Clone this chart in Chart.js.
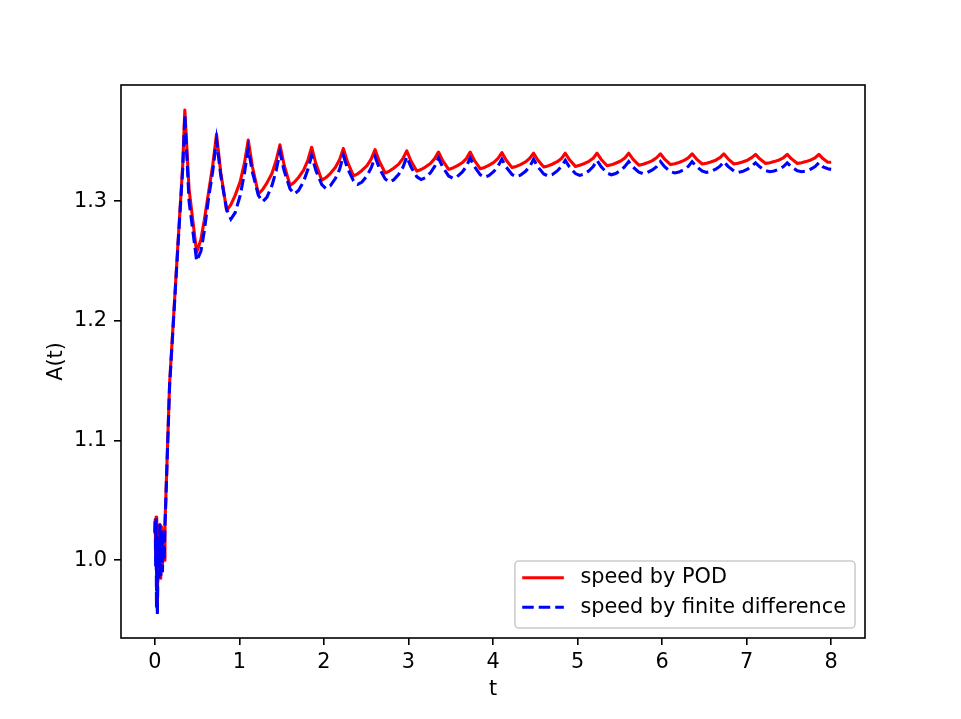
<!DOCTYPE html>
<html>
<head>
<meta charset="utf-8">
<script src="https://cdn.jsdelivr.net/npm/chart.js@4.4.0/dist/chart.umd.min.js"></script>
<style>
  body { margin: 0; background: #fff; }
  canvas { display: block; }
</style>
</head>
<body>
<canvas id="myChart" width="961" height="719"></canvas>
<script>
// time samples (start-up noise, first rise, then one line per oscillation)
const t = [
  0, 0.005, 0.01, 0.015, 0.02, 0.025, 0.03, 0.04, 0.05, 0.06, 0.07, 0.08, 0.09, 0.10, 0.11,
  0.12, 0.175, 0.274, 0.33,
  0.355, 0.405, 0.495, 0.545, 0.585, 0.635, 0.685,
  0.73, 0.78, 0.85, 0.90, 0.95, 1.01, 1.06,
  1.105, 1.155, 1.225, 1.275, 1.325, 1.385, 1.435,
  1.48, 1.53, 1.60, 1.65, 1.70, 1.76, 1.81,
  1.855, 1.905, 1.975, 2.025, 2.075, 2.135, 2.185,
  2.23, 2.28, 2.35, 2.40, 2.45, 2.51, 2.56,
  2.605, 2.655, 2.725, 2.775, 2.825, 2.885, 2.935,
  2.98, 3.03, 3.10, 3.15, 3.20, 3.26, 3.31,
  3.355, 3.405, 3.475, 3.525, 3.575, 3.635, 3.685,
  3.73, 3.78, 3.85, 3.90, 3.95, 4.01, 4.06,
  4.105, 4.155, 4.225, 4.275, 4.325, 4.385, 4.435,
  4.48, 4.53, 4.60, 4.65, 4.70, 4.76, 4.81,
  4.855, 4.905, 4.975, 5.025, 5.075, 5.135, 5.185,
  5.23, 5.28, 5.35, 5.40, 5.45, 5.51, 5.56,
  5.605, 5.655, 5.725, 5.775, 5.825, 5.885, 5.935,
  5.98, 6.03, 6.10, 6.15, 6.20, 6.26, 6.31,
  6.355, 6.405, 6.475, 6.525, 6.575, 6.635, 6.685,
  6.73, 6.78, 6.85, 6.90, 6.95, 7.01, 7.06,
  7.105, 7.155, 7.225, 7.275, 7.325, 7.385, 7.435,
  7.48, 7.53, 7.60, 7.65, 7.70, 7.76, 7.81,
  7.855, 7.905, 7.96, 8.0
];

const podSpeed = [
  1.023, 1.034, 1.005, 1.036, 0.975, 1.02, 0.958, 1.025, 0.99, 1.03, 0.985, 1.028, 0.995, 1.025, 1.0,
  1.03, 1.148, 1.265, 1.33,
  1.376, 1.31, 1.257, 1.268, 1.284, 1.307, 1.33,
  1.356, 1.324, 1.292, 1.2971, 1.3048, 1.3163, 1.3317,
  1.351, 1.3285, 1.306, 1.3096, 1.315, 1.3231, 1.3339,
  1.347, 1.330, 1.313, 1.3157, 1.3198, 1.3259, 1.3341,
  1.345, 1.3313, 1.3175, 1.3197, 1.323, 1.328, 1.3346,
  1.344, 1.3325, 1.321, 1.3228, 1.3256, 1.3297, 1.3353,
  1.343, 1.3333, 1.3235, 1.3251, 1.3274, 1.3309, 1.3356,
  1.342, 1.3335, 1.325, 1.3264, 1.3284, 1.3315, 1.3355,
  1.341, 1.3338, 1.3265, 1.3277, 1.3294, 1.3320, 1.3355,
  1.341, 1.334, 1.327, 1.3281, 1.3298, 1.3323, 1.3357,
  1.3405, 1.3343, 1.328, 1.329, 1.3305, 1.3328, 1.3358,
  1.340, 1.3343, 1.3285, 1.3294, 1.3308, 1.3329, 1.3356,
  1.340, 1.3345, 1.329, 1.3299, 1.3312, 1.3332, 1.3358,
  1.340, 1.3348, 1.3295, 1.3303, 1.3316, 1.3335, 1.3360,
  1.340, 1.335, 1.330, 1.3308, 1.332, 1.3338, 1.3362,
  1.3395, 1.335, 1.3305, 1.3312, 1.3323, 1.334, 1.3361,
  1.3395, 1.3353, 1.331, 1.3317, 1.3327, 1.3342, 1.3363,
  1.3395, 1.3353, 1.331, 1.3317, 1.3327, 1.3342, 1.3363,
  1.339, 1.3353, 1.3315, 1.3321, 1.333, 1.3344, 1.3362,
  1.339, 1.3353, 1.3315, 1.3321, 1.333, 1.3344, 1.3362,
  1.339, 1.3353, 1.3325, 1.3325
];

const fdSpeed = [
  1.023, 1.034, 0.995, 1.035, 0.96, 1.02, 0.955, 1.02, 0.985, 1.03, 0.985, 1.025, 0.99, 1.02, 1.0,
  1.028, 1.146, 1.263, 1.327,
  1.372, 1.30, 1.25, 1.258, 1.275, 1.302, 1.325,
  1.351, 1.3213, 1.2929, 1.285, 1.2903, 1.3048, 1.3233,
  1.344, 1.324, 1.3048, 1.2995, 1.3031, 1.3129, 1.3253,
  1.341, 1.3253, 1.3102, 1.306, 1.3088, 1.3165, 1.3263,
  1.338, 1.3256, 1.3138, 1.3105, 1.3127, 1.3188, 1.3265,
  1.338, 1.3272, 1.3169, 1.314, 1.3159, 1.3212, 1.3279,
  1.337, 1.3276, 1.3185, 1.316, 1.3177, 1.3223, 1.3282,
  1.337, 1.3285, 1.3203, 1.318, 1.3195, 1.3237, 1.329,
  1.336, 1.3284, 1.321, 1.319, 1.3204, 1.3241, 1.3289,
  1.336, 1.3288, 1.3219, 1.320, 1.3213, 1.3248, 1.3293,
  1.335, 1.3285, 1.3222, 1.3205, 1.3217, 1.3249, 1.3289,
  1.335, 1.3287, 1.3227, 1.321, 1.3221, 1.3252, 1.3291,
  1.334, 1.3284, 1.323, 1.3215, 1.3225, 1.3253, 1.3288,
  1.334, 1.3286, 1.3234, 1.322, 1.323, 1.3256, 1.329,
  1.333, 1.3285, 1.3242, 1.323, 1.3238, 1.326, 1.3288,
  1.333, 1.3287, 1.3246, 1.3235, 1.3243, 1.3264, 1.3290,
  1.333, 1.329, 1.3251, 1.324, 1.3247, 1.3267, 1.3292,
  1.333, 1.329, 1.3251, 1.324, 1.3247, 1.3267, 1.3292,
  1.332, 1.3286, 1.3254, 1.3245, 1.3251, 1.3268, 1.3289,
  1.332, 1.3286, 1.3254, 1.3245, 1.3251, 1.3268, 1.3289,
  1.332, 1.3286, 1.327, 1.3265
];

const xTicks = [0, 1, 2, 3, 4, 5, 6, 7, 8];
const yTicks = [1.0, 1.1, 1.2, 1.3];

const FONT = 'DejaVu Sans';
const FS = 20.8;

// black box round the plot area (matplotlib spines)
const frame = {
  id: 'frame',
  afterDatasetsDraw(chart) {
    const {ctx, chartArea: a} = chart;
    ctx.save();
    ctx.strokeStyle = '#000';
    ctx.lineWidth = 1.6;
    ctx.strokeRect(a.left, a.top, a.right - a.left, a.bottom - a.top);
    ctx.restore();
  }
};

// legend box in the lower right corner
const legendBox = {
  id: 'legendBox',
  afterDraw(chart) {
    const {ctx, chartArea: a} = chart;
    const sets = chart.data.datasets;
    ctx.save();
    ctx.font = FS + 'px "' + FONT + '"';
    const textW = Math.max(...sets.map(d => ctx.measureText(d.label).width));
    const w = 7.3 + 41.6 + 16.6 + textW + 9;
    const h = 67;
    const x = a.right - 10 - w;
    const y = a.bottom - 10 - h;
    ctx.beginPath();
    ctx.roundRect(x, y, w, h, 4);
    ctx.fillStyle = 'rgba(255,255,255,0.8)';
    ctx.fill();
    ctx.strokeStyle = '#cccccc';
    ctx.lineWidth = 1.6;
    ctx.stroke();
    sets.forEach((d, i) => {
      const cy = y + 16.7 + i * 29.6;
      ctx.beginPath();
      ctx.strokeStyle = d.borderColor;
      ctx.lineWidth = d.borderWidth;
      ctx.setLineDash(d.borderDash || []);
      ctx.moveTo(x + 7.3, cy);
      ctx.lineTo(x + 7.3 + 41.6, cy);
      ctx.stroke();
      ctx.setLineDash([]);
      ctx.fillStyle = '#000';
      ctx.textBaseline = 'middle';
      ctx.textAlign = 'left';
      ctx.fillText(d.label, x + 7.3 + 41.6 + 16.6, cy);
    });
    ctx.restore();
  }
};

const ctx = document.getElementById('myChart');

new Chart(ctx, {
  type: 'line',
  data: {
    datasets: [{
      label: 'speed by POD',
      data: t.map((v, i) => ({x: v, y: podSpeed[i]})),
      borderColor: '#ff0000',
      borderWidth: 3.1,
      borderJoinStyle: 'round',
      pointRadius: 0,
      tension: 0,
      order: 2
    }, {
      label: 'speed by finite difference',
      data: t.map((v, i) => ({x: v, y: fdSpeed[i]})),
      borderColor: '#0000ff',
      borderWidth: 3.1,
      borderDash: [11.5, 5],
      pointRadius: 0,
      tension: 0,
      order: 1
    }]
  },
  options: {
    responsive: false,
    animation: false,
    devicePixelRatio: 1,
    layout: { padding: { top: 85, right: 96, left: 0, bottom: 0 } },
    plugins: { legend: { display: false }, tooltip: { enabled: false } },
    scales: {
      x: {
        type: 'linear',
        min: -0.4,
        max: 8.4,
        afterBuildTicks: s => { s.ticks = xTicks.map(v => ({value: v})); },
        afterFit: s => { s.height = 81; },
        border: { display: false },
        grid: { drawOnChartArea: false, drawTicks: true, tickLength: 7, color: '#000', lineWidth: 1.6 },
        ticks: { color: '#000', font: { family: FONT, size: FS }, padding: 5, maxRotation: 0, autoSkip: false,
                 callback: v => String(v) },
        title: { display: true, text: 't', color: '#000', font: { family: FONT, size: FS }, padding: { bottom: 16.5 } }
      },
      y: {
        min: 0.935,
        max: 1.397,
        afterBuildTicks: s => { s.ticks = yTicks.map(v => ({value: v})); },
        afterFit: s => { s.width = 121; },
        border: { display: false },
        grid: { drawOnChartArea: false, drawTicks: true, tickLength: 7, color: '#000', lineWidth: 1.6 },
        ticks: { color: '#000', font: { family: FONT, size: FS }, padding: 7,
                 callback: v => v.toFixed(1) },
        title: { display: true, text: 'A(t)', color: '#000', font: { family: FONT, size: FS }, padding: { top: 44.5 } }
      }
    }
  },
  plugins: [frame, legendBox]
});
</script>
</body>
</html>
